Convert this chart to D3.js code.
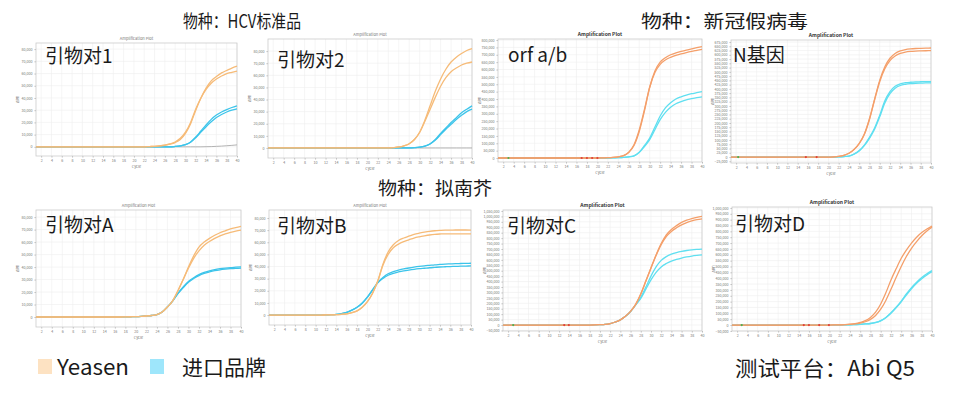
<!DOCTYPE html>
<html>
<head>
<meta charset="UTF-8"/>
<title>Amplification plots</title>
<script src="https://cdn.jsdelivr.net/npm/d3@7"></script>
<style>
body { margin: 0; background: #fff; }
svg text { font-family: "Noto Sans CJK SC", "Noto Sans", sans-serif; }
</style>
</head>
<body>
<svg id="chart" width="955" height="396"></svg>
<script>
// DATA (ΔRn values in thousands, one value per cycle 1..40)
var cycles = [1,2,3,4,5,6,7,8,9,10,11,12,13,14,15,16,17,18,19,20,
              21,22,23,24,25,26,27,28,29,30,31,32,33,34,35,36,37,38,39,40];
var xTickCycles = [2,4,6,8,10,12,14,16,18,20,22,24,26,28,30,32,34,36,38,40];

var sectionTitles = ["物种：HCV标准品", "物种：新冠假病毒", "物种：拟南芥"];
var primerNames = ["引物对1", "引物对2", "orf a/b", "N基因", "引物对A", "引物对B", "引物对C", "引物对D"];
var legendNames = ["Yeasen", "进口品牌"];
var platformText = "测试平台：Abi Q5";

// 引物对1
var p1Yeasen1 = [0,0,0,0,0,0,0,0,0,0, 0,0,0,0,0,0,0,0,0,0, 0,0,0.2,0.4,0.8,1.3,2.2,3.5,6,11, 19,30,40,48,54,57.5,60.5,62.5,64.5,66];
var p1Yeasen2 = [0,0,0,0,0,0,0,0,0,0, 0,0,0,0,0,0,0,0,0,0, 0,0,0.2,0.4,0.8,1.4,2.4,4,7,12, 20,31,40,47,52,55.5,58,60,61,62];
var p1Import1 = [0,0,0,0,0,0,0,0,0,0, 0,0,0,0,0,0,0,0,0,0, 0,0,0,0,0,0,0,0.3,0.8,1.8, 4,8,13,18,22.5,26,28.5,30.5,32.2,33.6];
var p1Import2 = [0,0,0,0,0,0,0,0,0,0, 0,0,0,0,0,0,0,0,0,0, 0,0,0,0,0,0,0,0.3,0.8,1.8, 3.8,7.5,12,16.5,20.5,24,26.5,28.5,30,31];
var p1Ntc     = [0,0,0,0,0,0,0,0,0,0, 0,0,0,0,0,0,0,0,0,0, 0,0,0,0,0,0,0,0,0,0, 0,0,0,0.1,0.2,0.4,0.6,0.9,1.2,1.6];

// 引物对2
var p2Yeasen1 = [0,0,0,0,0,0,0,0,0,0, 0,0,0,0,0,0,0,0,0,0, 0,0,0,0,0.3,0.8,1.8,3.5,7,13, 23,35,47,57,65,71,75,78,80.5,82];
var p2Yeasen2 = [0,0,0,0,0,0,0,0,0,0, 0,0,0,0,0,0,0,0,0,0, 0,0,0,0,0.3,0.8,1.8,3.5,7,13, 22,32,42,51,58,63,66,68.5,70,71];
var p2Import1 = [0,0,0,0,0,0,0,0,0,0, 0,0,0,0,0,0,0,0,0,0, 0,0,0,0,0,0,0,0,0.2,0.6, 1.5,3.5,7,12,16.5,21,25,29,32,34.8];
var p2Import2 = [0,0,0,0,0,0,0,0,0,0, 0,0,0,0,0,0,0,0,0,0, 0,0,0,0,0,0,0,0,0.2,0.6, 1.5,3.3,6.5,11,15.5,19.5,23.5,27,30,32];
var p2Ntc     = [0,0,0,0,0,0,0,0,0,0, 0,0,0,0,0,0,0,0,0,0, 0,0,0,0,0,0,0,0,0,0, 0,0,0,0,0,0,0,0,0,0];

// orf a/b
var p3Yeasen1 = [0,0,0,0,0,0,0,0,0,0, 0,0,0,0,0,0,0,0,0,0, 1,2,4,8,16,38,85,180,320,480, 590,650,680,700,713,723,732,740,748,756];
var p3Yeasen2 = [0,0,0,0,0,0,0,0,0,0, 0,0,0,0,0,0,0,0,0,0, 1,2,4,8,16,40,90,190,330,480, 580,635,665,683,696,706,715,723,730,737];
var p3Import1 = [0,0,0,0,0,0,0,0,0,0, 0,0,0,0,0,0,0,0,0,0, 0,0,1,2,4,8,15,40,85,135, 210,285,340,375,400,415,427,436,443,450];
var p3Import2 = [0,0,0,0,0,0,0,0,0,0, 0,0,0,0,0,0,0,0,0,0, 0,0,1,2,4,8,15,37,78,125, 192,260,310,345,368,383,395,403,410,415];
var p3Marks   = [3, 17, 18, 19, 20];

// N基因
var p4Yeasen1 = [0,0,0,0,0,0,0,0,0,0, 0,0,0,0,0,0,0,0,0,0, 1,4,10,22,45,80,135,225,340,450, 530,580,608,623,631,635,637,638,639,640];
var p4Yeasen2 = [0,0,0,0,0,0,0,0,0,0, 0,0,0,0,0,0,0,0,0,0, 1,4,10,22,44,78,132,220,335,442, 518,566,593,608,616,620,622,623,624,625];
var p4Import1 = [0,0,0,0,0,0,0,0,0,0, 0,0,0,0,0,0,0,0,0,0, 0,1,3,6,18,38,70,115,170,245, 330,384,415,430,436,439,441,442,443,443];
var p4Import2 = [0,0,0,0,0,0,0,0,0,0, 0,0,0,0,0,0,0,0,0,0, 0,1,3,6,17,36,67,110,163,236, 318,372,404,420,427,431,433,434,435,435];
var p4Marks   = [2.4, 15.6, 17.7];

// 引物对A
var p5Yeasen1 = [0,0,0,0,0,0,0,0,0,0, 0,0,0,0,0,0,0,0.1,0.2,0.3, 0.5,0.8,1.2,2,4,8,13,21,30,40, 49,56,60,63,65.5,67.5,69,70.5,71.6,72.6];
var p5Yeasen2 = [0,0,0,0,0,0,0,0,0,0, 0,0,0,0,0,0,0,0.1,0.2,0.3, 0.5,0.8,1.2,2,4,8,13,21,30,39, 47,53,57.5,60.5,63,65,66.5,67.8,68.8,69.6];
var p5Import1 = [0,0,0,0,0,0,0,0,0,0, 0,0,0,0,0,0,0,0.1,0.2,0.3, 0.5,0.8,1.2,2,4,8,13,19,24,28.5, 31.5,34,35.8,37,38,38.7,39.2,39.6,39.9,40.2];
var p5Import2 = [0,0,0,0,0,0,0,0,0,0, 0,0,0,0,0,0,0,0.1,0.2,0.3, 0.5,0.8,1.2,2,4,8,12.8,18.7,23.5,27.8, 30.8,33.2,34.9,36.1,37.1,37.8,38.3,38.7,39,39.2];

// 引物对B
var p6Yeasen1 = [0,0,0,0,0,0,0,0,0,0, 0,0.1,0.2,0.3,0.6,1,2,3.5,6.5,11, 18,28,42,52,58,61.5,63.5,65,66.5,67.5, 68.3,69,69.5,69.8,70,70,70.1,70.1,70.1,70];
var p6Yeasen2 = [0,0,0,0,0,0,0,0,0,0, 0,0.1,0.2,0.3,0.6,1,2,3.5,6.5,11, 18,28,41,50,55.5,58.5,60.5,62,63.5,64.5, 65.3,66,66.5,66.8,67,67,67,67,67,67];
var p6Import1 = [0,0,0,0,0,0,0,0,0,0, 0,0.1,0.3,0.6,1.2,2.2,4,6.5,10,15, 21,27,31,34,35.8,37,38,38.8,39.5,40.1, 40.6,41,41.4,41.7,42,42.2,42.4,42.5,42.6,42.7];
var p6Import2 = [0,0,0,0,0,0,0,0,0,0, 0,0.1,0.3,0.6,1.2,2.2,4,6.4,9.8,14.6, 20.5,26.5,30.2,32.8,34.4,35.5,36.4,37.1,37.7,38.2, 38.6,39,39.3,39.6,39.8,40,40.1,40.3,40.4,40.5];

// 引物对C
var p7Yeasen1 = [0,0,0,0,0,0,0,0,0,0, 0,0,0,0,0,0,0,0,1,3, 6,13,28,48,80,125,190,285,405,525, 645,750,830,880,915,945,965,980,992,1000];
var p7Yeasen2 = [0,0,0,0,0,0,0,0,0,0, 0,0,0,0,0,0,0,0,1,3, 6,13,28,48,80,125,190,285,405,525, 640,740,815,862,895,922,942,958,970,978];
var p7Import1 = [0,0,0,0,0,0,0,0,0,0, 0,0,0,0,0,0,0,0,1,3, 6,13,28,48,80,125,185,255,350,450, 535,595,630,652,667,678,686,692,696,699];
var p7Import2 = [0,0,0,0,0,0,0,0,0,0, 0,0,0,0,0,0,0,0,1,3, 6,13,28,48,80,125,185,245,330,415, 485,535,566,588,604,617,627,635,641,646];
var p7Marks   = [3, 13, 13.9];

// 引物对D
var p8Yeasen1 = [0,0,0,0,0,0,0,0,0,0, 0,0,0,0,0,0,0,0,0,0, 1,2,4,7,12,22,37,65,110,180, 275,385,480,570,640,700,750,790,820,845];
var p8Yeasen2 = [0,0,0,0,0,0,0,0,0,0, 0,0,0,0,0,0,0,0,0,0, 0.5,1.5,3,5,9,16,28,48,82,135, 210,305,405,500,585,655,712,762,803,835];
var p8Import1 = [0,0,0,0,0,0,0,0,0,0, 0,0,0,0,0,0,0,0,0,0, 0,0,1,2,4,6,9,13,22,38, 65,105,152,205,265,320,366,405,438,465];
var p8Import2 = [0,0,0,0,0,0,0,0,0,0, 0,0,0,0,0,0,0,0,0,0, 0,0,1,2,4,6,9,13,21,36, 62,100,146,198,256,310,356,395,428,455];
var p8Marks   = [2.9, 15, 16, 18, 19.9];

// y tick values (thousands)
var ticksSmall = [0,10,20,30,40,50,60,70,80];
var ticksOrf = d3.range(0, 801, 50);
var ticksN = d3.range(-25, 676, 25);
var ticksC = d3.range(-50, 1051, 50);
var ticksD = d3.range(-50, 1001, 50);

// LAYOUT
var svg = d3.select("#chart");
var styleLight = {orange: "#f6bb78", cyan: "#3cc4ea", bold: false};
var styleDark = {orange: "#f49f6a", cyan: "#5fdff0", bold: true};

var panels = [
  {name: primerNames[0], ys: [p1Yeasen1, p1Yeasen2], im: [p1Import1, p1Import2], ntc: p1Ntc, ticks: ticksSmall,
   box: [36, 237, 43, 156], ydom: [-7.5, 85], st: styleLight, lab: [45, 63]},
  {name: primerNames[1], ys: [p2Yeasen1, p2Yeasen2], im: [p2Import1, p2Import2], ntc: p2Ntc, ticks: ticksSmall,
   box: [268, 472, 39, 158], ydom: [-8.3, 90], st: styleLight, lab: [277, 67]},
  {name: primerNames[2], ys: [p3Yeasen1, p3Yeasen2], im: [p3Import1, p3Import2], marks: p3Marks, ticks: ticksOrf,
   box: [498, 702, 39, 162], ydom: [-27, 807], st: styleDark, lab: [508, 62]},
  {name: primerNames[3], ys: [p4Yeasen1, p4Yeasen2], im: [p4Import1, p4Import2], marks: p4Marks, ticks: ticksN,
   box: [731, 931, 40, 163], ydom: [-35, 687], st: styleDark, lab: [733, 62]},
  {name: primerNames[4], ys: [p5Yeasen1, p5Yeasen2], im: [p5Import1, p5Import2], ticks: ticksSmall,
   box: [36, 241, 210, 327], ydom: [-8, 85.7], st: styleLight, lab: [45, 232]},
  {name: primerNames[5], ys: [p6Yeasen1, p6Yeasen2], im: [p6Import1, p6Import2], ticks: ticksSmall,
   box: [269, 471, 210, 325], ydom: [-8.2, 86.6], st: styleLight, lab: [277, 233]},
  {name: primerNames[6], ys: [p7Yeasen1, p7Yeasen2], im: [p7Import1, p7Import2], marks: p7Marks, ticks: ticksC,
   box: [503, 702, 210, 331], ydom: [-55, 1059], st: styleDark, lab: [507, 233]},
  {name: primerNames[7], ys: [p8Yeasen1, p8Yeasen2], im: [p8Import1, p8Import2], marks: p8Marks, ticks: ticksD,
   box: [732, 932, 207, 331], ydom: [-51, 1008], st: styleDark, lab: [735, 231]}
];

var fmt = d3.format(",");

function drawPanel(p) {
  var g = svg.append("g");
  var x = d3.scaleLinear().domain([1, 40]).range([p.box[0], p.box[1]]);
  var y = d3.scaleLinear().domain(p.ydom).range([p.box[3], p.box[2]]);

  // grid
  g.selectAll(".vg").data(xTickCycles).enter().append("line")
    .attr("x1", d => x(d)).attr("x2", d => x(d))
    .attr("y1", p.box[2]).attr("y2", p.box[3])
    .attr("stroke", "#eeeeee").attr("stroke-width", 0.6);
  g.selectAll(".hg").data(p.ticks).enter().append("line")
    .attr("x1", p.box[0]).attr("x2", p.box[1])
    .attr("y1", d => y(d)).attr("y2", d => y(d))
    .attr("stroke", "#eeeeee").attr("stroke-width", 0.6);

  // axes
  var ya = g.append("g").attr("transform", "translate(" + p.box[0] + ",0)")
    .call(d3.axisLeft(y).tickValues(p.ticks).tickSize(1.5).tickPadding(2)
      .tickFormat(d => fmt(d * 1000)));
  var xa = g.append("g").attr("transform", "translate(0," + p.box[3] + ")")
    .call(d3.axisBottom(x).tickValues(xTickCycles).tickSize(1.5).tickPadding(2));
  [ya, xa].forEach(function(a) {
    a.select(".domain").remove();
    a.selectAll("line").attr("stroke", "#bbbbbb");
    a.selectAll("text").attr("font-size", 3.6).attr("fill", "#777");
  });

  // frame
  g.append("rect")
    .attr("x", p.box[0]).attr("y", p.box[2])
    .attr("width", p.box[1] - p.box[0]).attr("height", p.box[3] - p.box[2])
    .attr("fill", "none").attr("stroke", "#cccccc").attr("stroke-width", 0.8);

  // small texts
  g.append("text")
    .attr("x", (p.box[0] + p.box[1]) / 2).attr("y", p.box[2] - 3)
    .attr("text-anchor", "middle").attr("font-size", p.st.bold ? 5 : 4)
    .attr("font-weight", p.st.bold ? "bold" : "normal")
    .attr("fill", p.st.bold ? "#333" : "#777")
    .text("Amplification Plot");
  g.append("text")
    .attr("x", (p.box[0] + p.box[1]) / 2).attr("y", p.box[3] + 12)
    .attr("text-anchor", "middle").attr("font-size", 3.8).attr("fill", "#777")
    .text("Cycle");
  var ym = (p.box[2] + p.box[3]) / 2;
  g.append("text")
    .attr("transform", "translate(" + (p.box[0] - 17) + "," + ym + ") rotate(-90)")
    .attr("text-anchor", "middle").attr("font-size", 3.8).attr("fill", "#777")
    .text("ΔRn");

  var line = d3.line()
    .x((d, i) => x(cycles[i]))
    .y(d => y(d))
    .curve(d3.curveMonotoneX);

  if (p.ntc) {
    g.append("path").datum(p.ntc).attr("d", line)
      .attr("fill", "none").attr("stroke", "#aaaaaa").attr("stroke-width", 0.9);
  }
  p.im.forEach(function(s) {
    g.append("path").datum(s).attr("d", line)
      .attr("fill", "none").attr("stroke", p.st.cyan).attr("stroke-width", 1.3);
  });
  p.ys.forEach(function(s) {
    g.append("path").datum(s).attr("d", line)
      .attr("fill", "none").attr("stroke", p.st.orange).attr("stroke-width", 1.3);
  });

  if (p.marks) {
    g.selectAll(".mk").data(p.marks).enter().append("circle")
      .attr("cx", d => x(d)).attr("cy", y(0)).attr("r", 1.1)
      .attr("fill", (d, i) => i === 0 ? "#4cb050" : "#e0403a");
  }

  // primer label
  g.append("text")
    .attr("x", p.lab[0]).attr("y", p.lab[1])
    .attr("font-size", 19).attr("fill", "#1a1a1a")
    .text(p.name);
}

panels.forEach(drawPanel);

// section titles
var titlePos = [[183, 28, 118], [641, 28, 167], [378, 195, 114]];
sectionTitles.forEach(function(t, i) {
  svg.append("text")
    .attr("x", titlePos[i][0]).attr("y", titlePos[i][1])
    .attr("font-size", 18).attr("fill", "#1a1a1a")
    .attr("textLength", titlePos[i][2]).attr("lengthAdjust", "spacingAndGlyphs")
    .text(t);
});

// legend
var legendColors = ["#fde2c2", "#9ee6fb"];
var legendX = [38, 150];
var legendTextX = [57, 182];
var legendTextW = [72, 84];
legendNames.forEach(function(n, i) {
  svg.append("rect")
    .attr("x", legendX[i]).attr("y", 359)
    .attr("width", 14).attr("height", 15)
    .attr("fill", legendColors[i]);
  svg.append("text")
    .attr("x", legendTextX[i]).attr("y", 375)
    .attr("font-size", 21).attr("fill", "#1a1a1a")
    .attr("textLength", legendTextW[i]).attr("lengthAdjust", "spacingAndGlyphs")
    .text(n);
});
svg.append("text")
  .attr("x", 735).attr("y", 376)
  .attr("font-size", 21).attr("fill", "#1a1a1a")
  .attr("textLength", 180).attr("lengthAdjust", "spacingAndGlyphs")
  .text(platformText);
</script>
</body>
</html>
